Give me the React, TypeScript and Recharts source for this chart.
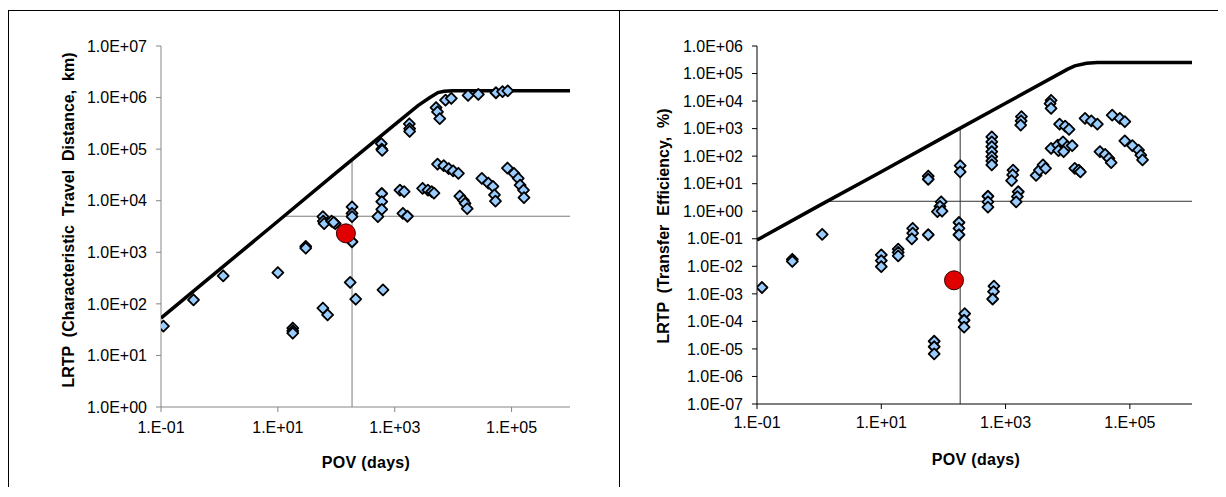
import React from 'react';
import { ComposedChart, Scatter, XAxis, YAxis, ReferenceLine } from 'recharts';

// ---- left panel: characteristic travel distance (km) ----
const distPov = [
  0.11, 0.36, 1.16, 10, 18, 18, 18, 30, 30, 59, 71, 59, 60, 62, 83, 96, 90,
  186, 186, 186, 186, 173, 215, 600, 600, 600, 515, 630, 590, 600, 610,
  1230, 1450, 1380, 1650, 1780, 1800, 1800, 3000, 3700, 4300, 4700,
  5100, 5400, 5900, 5400, 6900, 8400, 10000, 12300, 7400, 9300,
  13000, 15000, 16000, 17400, 18000, 27000, 31000, 40000, 48000, 51000, 53000,
  54000, 70000, 86000, 85000, 110000, 130000, 140000, 160000, 163000,
];
const distKm = [
  37, 120, 350, 405, 34, 30, 27, 1300, 1200, 83, 61, 4900, 4000, 3600, 4000, 3600, 3800,
  7600, 5700, 4900, 1600, 260, 123, 13800, 9600, 6800, 4900, 186, 128000, 100000, 95000,
  16000, 15000, 5700, 5000, 310000, 250000, 220000, 17400, 16000, 15000, 14000,
  640000, 530000, 390000, 51000, 48000, 42000, 38000, 34000, 890000, 960000,
  12300, 10200, 8900, 7000, 1100000, 1150000, 27000, 22000, 19000, 13000, 9800,
  1240000, 1300000, 1350000, 43000, 34000, 27000, 20000, 16000, 11500,
];
const distTargetPov = [146];
const distTargetKm = [2330];
const distEnvPov = [0.1, 1, 10, 100, 1000, 2500, 4000, 5500, 7000, 10000, 1000000];
const distEnvKm = [53, 460, 4000, 35000, 300000, 700000, 1000000, 1250000, 1330000, 1350000, 1350000];
const distCutPov = 186;
const distCutKm = 5000;

// ---- right panel: transfer efficiency (%) ----
const effPov = [
  0.12, 0.37, 0.37, 1.12, 10, 10, 10, 18.7, 18.7, 18.7, 32, 32, 31, 57, 57, 57,
  71, 71, 71, 92, 88, 80, 95, 178, 178, 178, 186, 186, 220, 215, 215,
  520, 520, 520, 600, 600, 600, 600, 600, 600, 600, 650, 640, 620,
  1320, 1300, 1250, 1600, 1550, 1480, 1800, 1780, 1750, 3100, 3500, 4000, 4400,
  5400, 5200, 5400, 5400, 6900, 8400, 9800, 11800, 7100, 8600, 7400, 9100, 10500,
  13000, 15000, 16000, 19000, 24000, 30000, 33000, 40000, 46000, 50000,
  52000, 69000, 83000, 83000, 110000, 138000, 150000, 160000,
];
const effPct = [
  0.0017, 0.018, 0.015, 0.145, 0.026, 0.016, 0.0098, 0.042, 0.032, 0.024, 0.24, 0.16, 0.1, 19, 14.5, 0.14,
  1.9e-5, 1.2e-5, 6.6e-6, 2.2, 1.5, 0.97, 1.0, 0.39, 0.24, 0.14, 45, 27, 1.9e-4, 1.1e-4, 6.2e-5,
  3.5, 2.2, 1.4, 500, 330, 220, 145, 96, 68, 48, 1.9e-3, 1.2e-3, 6.5e-4,
  31, 21, 13, 5.1, 3.4, 2.2, 2700, 1900, 1350, 20, 31, 48, 36,
  10700, 8100, 5400, 190, 250, 330, 220, 240, 160, 145, 1450, 1230, 930,
  36, 31, 27, 2350, 1900, 1450, 145, 115, 83, 58,
  3100, 2350, 1780, 360, 240, 165, 110, 73,
];
const effTargetPov = [148];
const effTargetPct = [0.0031];
const effEnvPov = [0.1, 1, 10, 100, 1000, 10000, 13000, 20000, 30000, 1000000];
const effEnvPct = [0.09, 1.6, 27, 480, 8300, 145000, 190000, 235000, 250000, 250000];
const effCutPov = 186;
const effCutPct = 2.3;

const xTicks = [0.1, 10, 1000, 100000];
const distTicks = [1, 10, 100, 1000, 10000, 100000, 1000000, 10000000];
const effTicks = [1e-7, 1e-6, 1e-5, 1e-4, 1e-3, 1e-2, 1e-1, 1, 10, 100, 1000, 10000, 100000, 1000000];

const zip = (xs: number[], ys: number[]) => xs.map((x, i) => ({ x, y: ys[i] }));

const expStr = (v: number) => {
  const e = Math.round(Math.log10(v));
  return (e < 0 ? '-' : '+') + String(Math.abs(e)).padStart(2, '0');
};
const fmtX = (v: number) => `1.E${expStr(v)}`;
const fmtY = (v: number) => `1.0E${expStr(v)}`;

const FONT = '"Liberation Sans", Arial, sans-serif';
const tickStyle = { fill: '#000', fontSize: 16 };

const Diamond = (props: any) => {
  const { cx, cy } = props;
  if (cx == null || cy == null) return null;
  const r = 5.5;
  return (
    <path
      d={`M${cx},${cy - r}L${cx + r},${cy}L${cx},${cy + r}L${cx - r},${cy}Z`}
      fill="#99CCFF"
      stroke="#000"
      strokeWidth={1.8}
      strokeLinejoin="round"
    />
  );
};

const RedDot = (props: any) => {
  const { cx, cy } = props;
  if (cx == null || cy == null) return null;
  return <circle cx={cx} cy={cy} r={9.5} fill="#E00000" stroke="#300" strokeWidth={1} />;
};

const NoDot = () => null;

interface PanelProps {
  width: number;
  margin: { top: number; right: number; bottom: number; left: number };
  axisColor: string;
  refColor: string;
  yDomain: [number, number];
  yTicks: number[];
  points: { x: number; y: number }[];
  target: { x: number; y: number }[];
  envelope: { x: number; y: number }[];
  cutX: number;
  cutXTop: number;
  cutY: number;
  cutYStart: number;
  xTickMargin: number;
}

const Panel = (p: PanelProps) => (
  <ComposedChart width={p.width} height={487} margin={p.margin} style={{ fontFamily: FONT }}>
    <XAxis
      type="number"
      dataKey="x"
      scale="log"
      domain={[0.1, 1000000]}
      ticks={xTicks}
      tickFormatter={fmtX}
      allowDataOverflow
      height={30}
      tickSize={5}
      tickMargin={p.xTickMargin}
      stroke={p.axisColor}
      tick={tickStyle}
    />
    <YAxis
      type="number"
      dataKey="y"
      scale="log"
      domain={p.yDomain}
      ticks={p.yTicks}
      tickFormatter={fmtY}
      allowDataOverflow
      width={70}
      tickSize={5}
      tickMargin={9}
      interval={0}
      stroke={p.axisColor}
      tick={tickStyle}
    />
    <ReferenceLine
      segment={[{ x: p.cutYStart, y: p.cutY }, { x: 1000000, y: p.cutY }]}
      stroke={p.refColor}
      strokeWidth={1}
    />
    <ReferenceLine
      segment={[{ x: p.cutX, y: p.yDomain[0] }, { x: p.cutX, y: p.cutXTop }]}
      stroke={p.refColor}
      strokeWidth={1}
    />
    <Scatter
      data={p.envelope}
      line={{ stroke: '#000', strokeWidth: 3.5 }}
      shape={NoDot}
      isAnimationActive={false}
    />
    <Scatter data={p.points} shape={Diamond} isAnimationActive={false} />
    <Scatter data={p.target} shape={RedDot} isAnimationActive={false} />
  </ComposedChart>
);

const titleStyle: React.CSSProperties = {
  position: 'absolute',
  fontFamily: FONT,
  fontWeight: 'bold',
  fontSize: 16,
  whiteSpace: 'nowrap',
  color: '#000',
};

export default function App() {
  return (
    <div
      style={{
        position: 'relative',
        width: 1218,
        height: 487,
        marginTop: 2,
        marginBottom: -10,
        overflow: 'hidden',
        background: '#fff',
      }}
    >
      <div
        style={{
          position: 'absolute',
          left: 0,
          top: 0,
          width: 612,
          height: 520,
          border: '1px solid #000',
          boxSizing: 'border-box',
        }}
      />
      <div
        style={{
          position: 'absolute',
          left: 612,
          top: 0,
          width: 606,
          borderTop: '1px solid #000',
        }}
      />
      <div style={{ position: 'absolute', left: 0, top: 0 }}>
        <Panel
          width={612}
          margin={{ top: 36, right: 50, bottom: 60, left: 83 }}
          axisColor="#868686"
          refColor="#7a7a7a"
          yDomain={[1, 10000000]}
          yTicks={distTicks}
          points={zip(distPov, distKm)}
          target={zip(distTargetPov, distTargetKm)}
          envelope={zip(distEnvPov, distEnvKm)}
          cutX={distCutPov}
          cutXTop={61000}
          cutY={distCutKm}
          cutYStart={12.8}
          xTickMargin={10}
        />
      </div>
      <div style={{ position: 'absolute', left: 612, top: 0 }}>
        <Panel
          width={606}
          margin={{ top: 36, right: 34, bottom: 63, left: 67 }}
          axisColor="#000"
          refColor="#333"
          yDomain={[1e-7, 1000000]}
          yTicks={effTicks}
          points={zip(effPov, effPct)}
          target={zip(effTargetPov, effTargetPct)}
          envelope={zip(effEnvPov, effEnvPct)}
          cutX={effCutPov}
          cutXTop={1035}
          cutY={effCutPct}
          cutYStart={1.35}
          xTickMargin={8}
        />
      </div>
      <div
        style={{
          ...titleStyle,
          left: 61,
          top: 210,
          wordSpacing: 4.5,
          transform: 'translate(-50%, -50%) rotate(-90deg)',
        }}
      >
        LRTP (Characteristic Travel Distance, km)
      </div>
      <div style={{ ...titleStyle, left: 358, top: 453, letterSpacing: 0.3, transform: 'translate(-50%, -50%)' }}>
        POV (days)
      </div>
      <div
        style={{
          ...titleStyle,
          left: 656,
          top: 216,
          wordSpacing: 4.5,
          transform: 'translate(-50%, -50%) rotate(-90deg)',
        }}
      >
        LRTP (Transfer Efficiency, %)
      </div>
      <div style={{ ...titleStyle, left: 968, top: 450, letterSpacing: 0.3, transform: 'translate(-50%, -50%)' }}>
        POV (days)
      </div>
    </div>
  );
}
